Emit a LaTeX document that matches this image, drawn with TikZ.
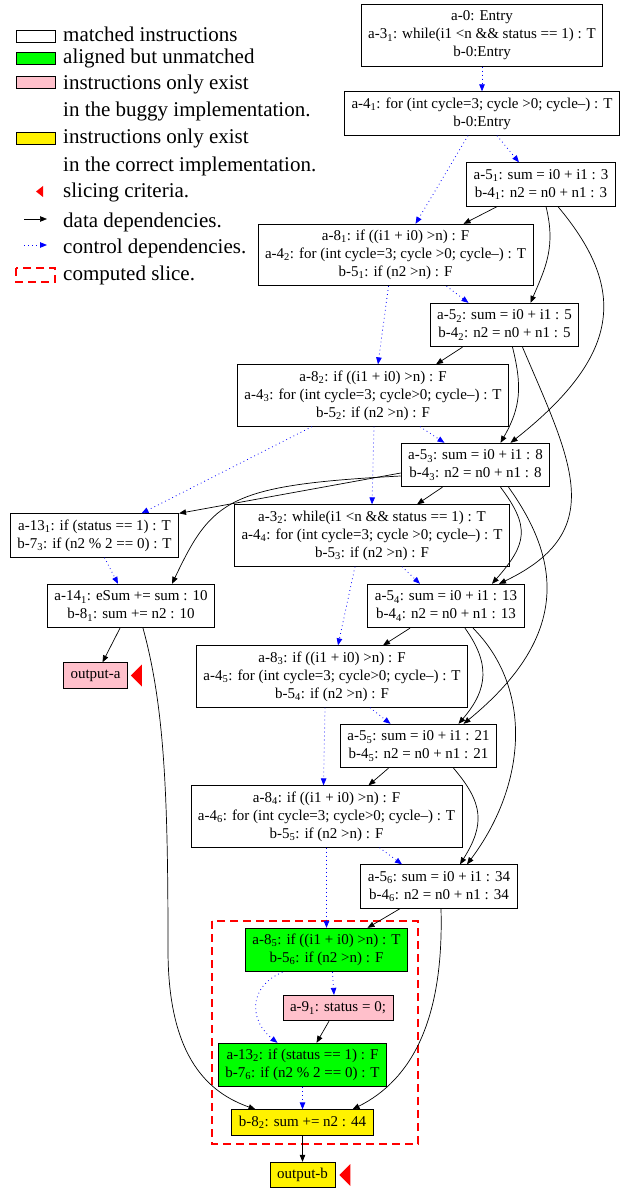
\documentclass[tikz,border=0pt]{standalone}
\usepackage{fontspec}
\setmainfont{Liberation Serif}
\usetikzlibrary{arrows.meta}
\definecolor{lightpink}{RGB}{255,192,203}
\newcommand{\instfont}{\fontsize{15}{18}\selectfont}
\newcommand{\keyfont}{\fontsize{21}{25}\selectfont}

\begin{document}
\begin{tikzpicture}[x=1pt, y=-1pt,
inst/.style={draw, line width=0.8pt, align=center, font=\instfont, inner xsep=7pt, inner ysep=2pt}, % my basic instruction style
matched/.style={inst, fill=white}, % matched instructions
aligned/.style={inst, fill=green}, % aligned but unmatched
buggy/.style={inst, fill=lightpink}, % only in the buggy implementation
correct/.style={inst, fill=yellow}, % only in the correct implementation
one/.style={minimum height=25.5pt},
two/.style={minimum height=43.5pt},
three/.style={minimum height=61.5pt},
datadep/.style={-{Triangle[length=7pt,width=5.5pt]}, line width=0.7pt}, % data dependency
ctrldep/.style={-{Triangle[length=7pt,width=5.5pt]}, blue, line width=0.8pt, dash pattern=on 0.8pt off 3.2pt}, % control dependency
slicebox/.style={red, line width=1.4pt, dash pattern=on 8pt off 5pt}, % computed slice
legendtext/.style={font=\keyfont, anchor=base west, inner sep=0pt},
swatch/.style={draw, line width=0.8pt, minimum width=39pt, minimum height=12pt, inner sep=0pt}
]

\useasboundingbox (0,0) rectangle (619,1190);

% legend
\node[swatch, fill=white] (k1) at (35.5,36) {};
\node[swatch, fill=green] (k2) at (35.5,58.5) {};
\node[swatch, fill=lightpink] (k3) at (35.5,82.5) {};
\node[swatch, fill=yellow] (k4) at (35.5,138) {};
\node[legendtext] (t1) at (63,42) {matched instructions};
\node[legendtext] (t2) at (63,63.3) {aligned but unmatched};
\node[legendtext] (t3) at (63,89.3) {instructions only exist};
\node[legendtext] (t4) at (63,116.7) {in the buggy implementation.};
\node[legendtext] (t5) at (63,143.3) {instructions only exist};
\node[legendtext] (t6) at (63,171.7) {in the correct implementation.};
\node[legendtext] (t7) at (63,197.3) {slicing criteria.};
\node[legendtext] (t8) at (63,227.7) {data dependencies.};
\node[legendtext] (t9) at (63,254) {control dependencies.};
\node[legendtext] (t10) at (63,280) {computed slice.};
\fill[red] (36,191.5) -- ++(7,-5.5) -- ++(0,11) -- cycle;
\coordinate (d0) at (24,219);
\coordinate (d1) at (47,219);
\draw[datadep] (d0) -- (d1);
\coordinate (c0) at (24,245);
\coordinate (c1) at (47,245);
\draw[ctrldep] (c0) -- (c1);
\draw[slicebox] (16,268) rectangle (55,282);

% computed slice
\draw[slicebox] (212,921) rectangle (418,1144);

% instructions
\node[matched, three] (a0) at (482,35.5) {a-0: Entry\\a-3\textsubscript{1}: while(i1 <n \&\& status == 1) : T\\b-0:Entry};
\node[matched, two] (a41) at (482,113.5) {a-4\textsubscript{1}: for (int cycle=3; cycle >0; cycle--) : T\\b-0:Entry};
\node[matched, two] (a51) at (541,184.5) {a-5\textsubscript{1}: sum = i0 + i1 : 3\\b-4\textsubscript{1}: n2 = n0 + n1 : 3};
\node[matched, three] (a81) at (395.5,255) {a-8\textsubscript{1}: if ((i1 + i0) >n) : F\\a-4\textsubscript{2}: for (int cycle=3; cycle >0; cycle--) : T\\b-5\textsubscript{1}: if (n2 >n) : F};
\node[matched, two] (a52) at (504.5,325) {a-5\textsubscript{2}: sum = i0 + i1 : 5\\b-4\textsubscript{2}: n2 = n0 + n1 : 5};
\node[matched, three] (a82) at (373,395.5) {a-8\textsubscript{2}: if ((i1 + i0) >n) : F\\a-4\textsubscript{3}: for (int cycle=3; cycle>0; cycle--) : T\\b-5\textsubscript{2}: if (n2 >n) : F};
\node[matched, two] (a53) at (475.5,465) {a-5\textsubscript{3}: sum = i0 + i1 : 8\\b-4\textsubscript{3}: n2 = n0 + n1 : 8};
\node[matched, two] (a131) at (94.5,535.5) {a-13\textsubscript{1}: if (status == 1) : T\\b-7\textsubscript{3}: if (n2 \% 2 == 0) : T};
\node[matched, three] (a32) at (372,535.5) {a-3\textsubscript{2}: while(i1 <n \&\& status == 1) : T\\a-4\textsubscript{4}: for (int cycle=3; cycle >0; cycle--) : T\\b-5\textsubscript{3}: if (n2 >n) : F};
\node[matched, two] (a141) at (131,606) {a-14\textsubscript{1}: eSum += sum : 10\\b-8\textsubscript{1}: sum += n2 : 10};
\node[matched, two] (a54) at (446,606) {a-5\textsubscript{4}: sum = i0 + i1 : 13\\b-4\textsubscript{4}: n2 = n0 + n1 : 13};
\node[buggy, one] (outa) at (95.5,675.5) {output-a};
\node[matched, three] (a83) at (332,676.5) {a-8\textsubscript{3}: if ((i1 + i0) >n) : F\\a-4\textsubscript{5}: for (int cycle=3; cycle>0; cycle--) : T\\b-5\textsubscript{4}: if (n2 >n) : F};
\node[matched, two] (a55) at (418.5,746) {a-5\textsubscript{5}: sum = i0 + i1 : 21\\b-4\textsubscript{5}: n2 = n0 + n1 : 21};
\node[matched, three] (a84) at (326.5,816.5) {a-8\textsubscript{4}: if ((i1 + i0) >n) : F\\a-4\textsubscript{6}: for (int cycle=3; cycle>0; cycle--) : T\\b-5\textsubscript{5}: if (n2 >n) : F};
\node[matched, two] (a56) at (439,886.5) {a-5\textsubscript{6}: sum = i0 + i1 : 34\\b-4\textsubscript{6}: n2 = n0 + n1 : 34};
\node[aligned, two] (a85) at (326.5,950) {a-8\textsubscript{5}: if ((i1 + i0) >n) : T\\b-5\textsubscript{6}: if (n2 >n) : F};
\node[buggy, one] (a91) at (338,1008) {a-9\textsubscript{1}: status = 0;};
\node[aligned, two] (a132) at (302.5,1065) {a-13\textsubscript{2}: if (status == 1) : F\\b-7\textsubscript{6}: if (n2 \% 2 == 0) : T};
\node[correct, one] (b82) at (302.5,1122.5) {b-8\textsubscript{2}: sum += n2 : 44};
\node[correct, one] (outb) at (302.5,1175) {output-b};

% slicing criteria
\fill[red] ([xshift=3pt]outa.east) -- ++(11,-11) -- ++(0,22) -- cycle;
\fill[red] ([xshift=4pt]outb.east) -- ++(11,-11) -- ++(0,22) -- cycle;

% control dependencies
\draw[ctrldep] (a0.south) -- (a41.north);
\draw[ctrldep] ([xshift=15pt]a41.south) -- ([xshift=-22pt]a51.north);
\draw[ctrldep] ([xshift=-14pt]a41.south) -- ([xshift=20pt]a81.north);
\draw[ctrldep] ([xshift=51pt]a81.south) -- ([xshift=-36pt]a52.north);
\draw[ctrldep] ([xshift=-7pt]a81.south) -- ([xshift=5pt]a82.north);
\draw[ctrldep] ([xshift=47pt]a82.south) -- ([xshift=-31pt]a53.north);
\draw[ctrldep] ([xshift=-61pt]a82.south) -- ([xshift=47pt]a131.north);
\draw[ctrldep] ([xshift=1pt]a82.south) -- (a32.north);
\draw[ctrldep] ([xshift=10pt]a131.south) -- ([xshift=-13pt]a141.north);
\draw[ctrldep] ([xshift=30pt]a32.south) -- ([xshift=-26pt]a54.north);
\draw[ctrldep] ([xshift=-17pt]a32.south) -- ([xshift=6pt]a83.north);
\draw[ctrldep] ([xshift=38pt]a83.south) -- ([xshift=-28pt]a55.north);
\draw[ctrldep] ([xshift=-7pt]a83.south) -- ([xshift=-3pt]a84.north);
\draw[ctrldep] ([xshift=53pt]a84.south) -- ([xshift=-37pt]a56.north);
\draw[ctrldep] (a84.south) -- (a85.north);
\draw[ctrldep] ([xshift=6pt]a85.south) -- ([xshift=-4pt]a91.north);
\draw[ctrldep] ([xshift=-44pt]a85.south) .. controls +(-35,15) and +(-28,-22) .. ([xshift=-25pt]a132.north);
\draw[ctrldep] (a132.south) -- (b82.north);

% data dependencies
\draw[datadep] ([xshift=-44pt]a51.south) -- ([xshift=68pt]a81.north);
\draw[datadep] ([xshift=5pt]a51.south) .. controls +(10,40) and +(15,-35) .. ([xshift=26pt]a52.north);
\draw[datadep] ([xshift=17pt]a51.south) .. controls +(67,80) and +(114,-90) .. ([xshift=35pt]a53.north);
\draw[datadep] ([xshift=-42pt]a52.south) -- ([xshift=63pt]a82.north);
\draw[datadep] ([xshift=8pt]a52.south) .. controls +(10,40) and +(20,-35) .. ([xshift=25pt]a53.north);
\draw[datadep] ([xshift=18pt]a52.south) .. controls +(48,113) and +(111,-53) .. ([xshift=53pt]a54.north);
\draw[datadep] ([yshift=-8pt]a53.west) -- (a131.north east);
\draw[datadep] ([yshift=-11pt]a53.west) .. controls +(-173,9) and +(40,-84) .. ([xshift=41pt]a141.north);
\draw[datadep] ([xshift=-33pt]a53.south) -- ([xshift=45pt]a32.north);
\draw[datadep] ([xshift=25pt]a53.south) .. controls +(30,40) and +(35,-40) .. ([xshift=46pt]a54.north);
\draw[datadep] ([xshift=33pt]a53.south) .. controls +(50,70) and +(110,-90) .. ([xshift=45pt]a55.north);
\draw[datadep] ([xshift=-11pt]a141.south) -- ([xshift=7pt]outa.north);
\draw[datadep] ([xshift=12pt]a141.south) .. controls +(22,80) and +(0,-150) .. (168,950) .. controls +(0,110) and +(-45,-16) .. ([xshift=-47pt]b82.north);
\draw[datadep] ([xshift=-36pt]a54.south) -- ([xshift=51pt]a83.north);
\draw[datadep] ([xshift=19pt]a54.south) .. controls +(25,35) and +(30,-35) .. ([xshift=40pt]a55.north);
\draw[datadep] ([xshift=27pt]a54.south) .. controls +(60,60) and +(60,-80) .. ([xshift=28pt]a56.north);
\draw[datadep] ([xshift=-30pt]a55.south) -- ([xshift=42pt]a84.north);
\draw[datadep] ([xshift=35pt]a55.south) .. controls +(30,35) and +(25,-40) .. ([xshift=21pt]a56.north);
\draw[datadep] ([xshift=-39pt]a56.south) -- ([xshift=41pt]a85.north);
\draw[datadep] ([xshift=2pt]a56.south) .. controls +(3,110) and +(60,-30) .. ([xshift=50pt]b82.north);
\draw[datadep] ([xshift=-9pt]a91.south) -- ([xshift=14pt]a132.north);
\draw[datadep] (b82.south) -- (outb.north);

\end{tikzpicture}
\end{document}
